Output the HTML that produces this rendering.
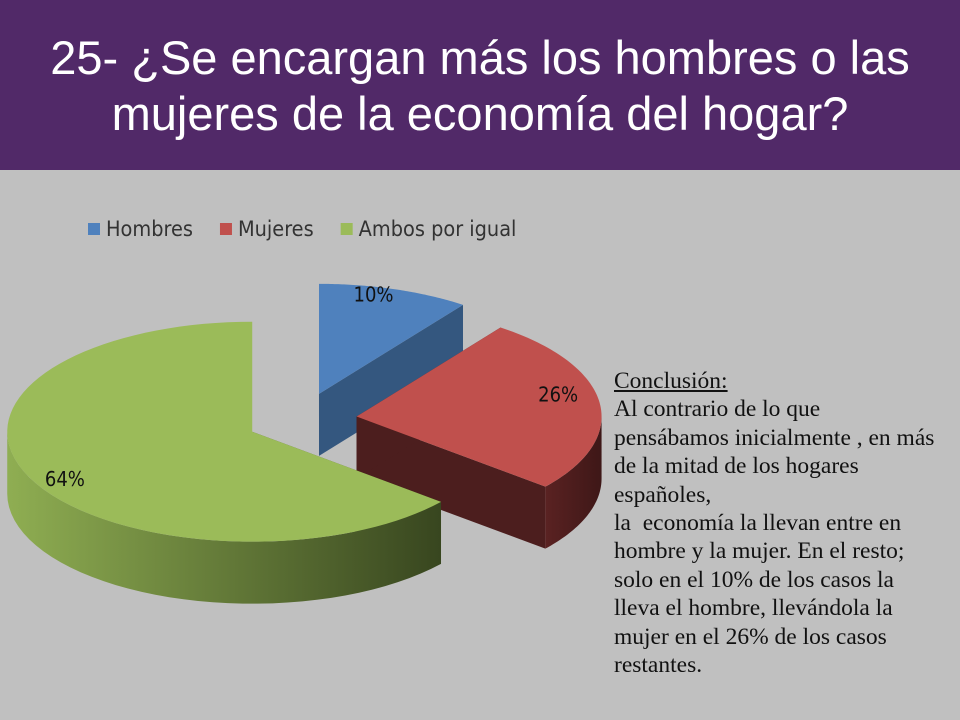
<!DOCTYPE html>
<html><head><meta charset="utf-8"><style>
body{margin:0;width:960px;height:720px;overflow:hidden;background:#c0c0c0;position:relative;font-family:"Liberation Sans",sans-serif}
#hdr{position:absolute;left:0;top:0;width:960px;height:170px;background:#512968}
#title{position:absolute;left:0;top:30px;width:960px;text-align:center;color:#fff;font-size:47px;line-height:56px}
#concl{position:absolute;left:614px;top:367px;width:346px;font-family:"Liberation Serif",serif;font-size:23.5px;line-height:28.4px;color:#111;white-space:nowrap}
svg{position:absolute;left:0;top:0}
</style></head><body>
<div id="hdr"></div>
<div id="title">25- ¿Se encargan más los hombres o las<br>mujeres de la economía del hogar?</div>
<svg id="chart" width="960" height="720">
<defs>
<linearGradient id="gG" x1="0" x2="1" y1="0" y2="0"><stop offset="0" stop-color="#8fae52"/><stop offset="1" stop-color="#38461f"/></linearGradient>
<linearGradient id="gR" x1="0" x2="1" y1="0" y2="0"><stop offset="0" stop-color="#5a2222"/><stop offset="1" stop-color="#3e1717"/></linearGradient>
<linearGradient id="gB" x1="0" x2="1" y1="0" y2="0"><stop offset="0" stop-color="#3a5f8e"/><stop offset="1" stop-color="#2f4e75"/></linearGradient>
</defs>
</svg>
<div id="concl"><u>Conclusión:</u><br>Al contrario de lo que<br>pensábamos inicialmente , en más<br>de la mitad de los hogares<br>españoles,<br>la&nbsp; economía la llevan entre en<br>hombre y la mujer. En el resto;<br>solo en el 10% de los casos la<br>lleva el hombre, llevándola la<br>mujer en el 26% de los casos<br>restantes.</div>
<script>
const categories=["Hombres","Mujeres","Ambos por igual"];
const values=[10,26,64];
const labels=["10%","26%","64%"];
const NS="http://www.w3.org/2000/svg";
const svg=document.getElementById('chart');
const topCol=["#4f81bd","#c0504d","#9bbb59"];
const wallCol=["url(#gB)","url(#gR)","url(#gG)"];
const cutCol=["#34577f","#4c1e1e","#4a5e2a"];
const B={x:302,y:420},RX=245,RY=110,D=62,EXP=55;
function el(t,a){const e=document.createElementNS(NS,t);for(const k in a)e.setAttribute(k,a[k]);svg.appendChild(e);return e;}
const total=values.reduce((a,b)=>a+b,0);
let ang=90;const slices=[];
values.forEach((v,i)=>{const sweep=v/total*360;slices.push({i,a0:ang-sweep,a1:ang});ang-=sweep;});
function pt(c,a,dy){const r=a*Math.PI/180;return [c.x+RX*Math.cos(r),c.y-RY*Math.sin(r)+(dy||0)];}
slices.forEach(s=>{
  const mid=(s.a0+s.a1)/2*Math.PI/180;
  const c={x:B.x+EXP*Math.cos(mid),y:B.y-EXP*0.5*Math.sin(mid)};
  [s.a0,s.a1].forEach(a=>{const p=pt(c,a);
    const w=el('path',{d:`M${c.x},${c.y}L${p[0]},${p[1]}L${p[0]},${p[1]+D}L${c.x},${c.y+D}Z`,fill:cutCol[s.i]});
    
    });
  let lo=s.a0,hi=s.a1;
  const segs=[];
  for(let k=-2;k<=1;k++){const f0=-180+360*k,f1=0+360*k;const a=Math.max(lo,f0),b=Math.min(hi,f1);if(b>a)segs.push([a,b]);}
  segs.forEach(([a,b])=>{let d='';const n=40;
    for(let j=0;j<=n;j++){const p=pt(c,a+(b-a)*j/n);d+=(j?'L':'M')+p[0]+','+p[1];}
    for(let j=n;j>=0;j--){const p=pt(c,a+(b-a)*j/n,D);d+='L'+p[0]+','+p[1];}
    const w=el('path',{d:d+'Z',fill:wallCol[s.i]});
    
    });
  let d=`M${c.x},${c.y}`;const n=80;
  for(let j=0;j<=n;j++){const p=pt(c,s.a0+(s.a1-s.a0)*j/n);d+='L'+p[0]+','+p[1];}
  const t=el('path',{d:d+'Z',fill:topCol[s.i]});
  
  
  const lr=s.i===2?0.8:0.72;const r=(s.i===1?(s.a0+s.a1)/2+12:(s.a0+s.a1)/2)*Math.PI/180;
  const lx=c.x+RX*lr*Math.cos(r),ly=c.y-RY*lr*Math.sin(r)+(s.i===0?-24:(s.i===1?4:10));
  const tx=el('text',{x:s.i===2?lx-10:(s.i===1?lx+35:lx),y:ly+7,'text-anchor':'middle','font-size':'20','fill':'#111','font-family':'"DejaVu Sans Condensed","Liberation Sans",sans-serif'});
  tx.textContent=labels[s.i];
  
  
});
let lx=88;
categories.forEach((c,i)=>{
  const r=el('rect',{x:lx,y:223,width:12,height:12,fill:topCol[i]});
  
  
  const t=el('text',{x:lx+18,y:236,'font-size':'21.5','fill':'#333','font-family':'"DejaVu Sans Condensed","Liberation Sans",sans-serif'});
  t.textContent=c;
  
  
  lx+=18+t.getComputedTextLength()+27;
});
</script>
</body></html>
